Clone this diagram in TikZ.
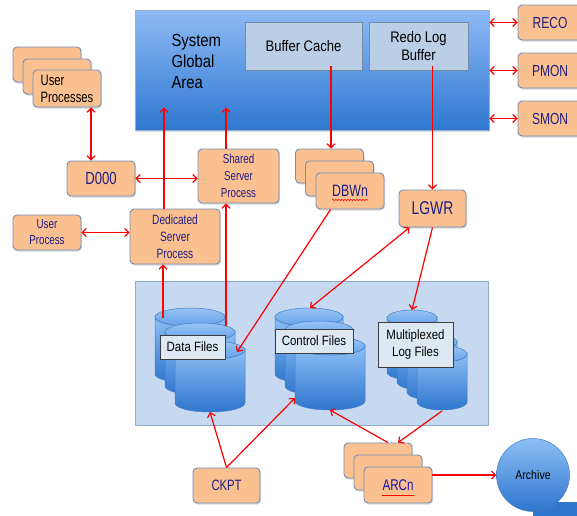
\documentclass[tikz,border=0pt]{standalone}
\usepackage{fontspec}
\setmainfont{Liberation Sans}[FakeStretch=0.85]
\newfontfamily\narrowsf{Liberation Sans}[FakeStretch=0.75]
\usepackage{tikz}
\usetikzlibrary{positioning,arrows.meta,calc,shadows,decorations.pathmorphing}

\definecolor{procfill}{RGB}{250,192,144}
\definecolor{procedge}{RGB}{112,142,182}
\definecolor{proctext}{RGB}{30,30,130}
\definecolor{sgaTop}{RGB}{142,186,246}
\definecolor{sgaBot}{RGB}{46,120,208}
\definecolor{sgaedge}{RGB}{150,175,210}
\definecolor{memfill}{RGB}{186,206,229}
\definecolor{memedge}{RGB}{120,138,162}
\definecolor{storefill}{RGB}{198,217,240}
\definecolor{storeedge}{RGB}{140,170,205}
\definecolor{cylTop}{RGB}{140,190,245}
\definecolor{cylBot}{RGB}{46,118,206}
\definecolor{capTop}{RGB}{150,196,246}
\definecolor{capBot}{RGB}{100,160,232}
\definecolor{cylEdge}{RGB}{70,125,195}
\definecolor{tagfill}{RGB}{222,232,243}
\definecolor{tagedge}{RGB}{60,60,60}
\definecolor{arrred}{RGB}{255,0,0}
\definecolor{linkblue}{RGB}{20,20,170}

\newcommand{\fs}[1]{\fontsize{#1}{#1}\selectfont}
\newcommand{\nfs}[2]{\narrowsf\fontsize{#1}{#2}\selectfont}
\newcommand{\drum}[5]{%
  \shade[cylbody] (#1-#4,#2) -- (#1-#4,#3) arc[start angle=180,end angle=0,x radius=#4,y radius=#5]
    -- (#1+#4,#2) arc[start angle=0,end angle=180,x radius=#4,y radius=#5] -- cycle;
  \shade[cylcap] (#1,#2) ellipse[x radius=#4,y radius=#5];}

\begin{document}
\begin{tikzpicture}[x=1pt, y=-1pt,
  shad/.style={drop shadow={shadow xshift=1pt, shadow yshift=-1.5pt, opacity=0.3}},
  proc/.style={draw=procedge, fill=procfill, rounded corners=4pt, line width=0.9pt, text=proctext, align=center, inner sep=1pt, shad},
  pbox/.style={proc, minimum width=68pt, minimum height=35pt},
  sga/.style={draw=sgaedge, top color=sgaTop, bottom color=sgaBot, line width=0.8pt, shad},
  mem/.style={draw=memedge, fill=memfill, line width=0.8pt, align=center},
  store/.style={draw=storeedge, fill=storefill, line width=0.8pt},
  tag/.style={draw=tagedge, fill=tagfill, line width=0.8pt, align=center, inner sep=2pt, font=\fontsize{13.5}{16.5}\selectfont},
  cylbody/.style={top color=cylTop, bottom color=cylBot, draw=cylEdge, line width=0.5pt},
  cylcap/.style={top color=capTop, bottom color=capBot, draw=cylEdge, line width=0.5pt},
  arr/.style={-{Straight Barb[length=4pt,width=8pt]}, line width=1.2pt, draw=arrred},
  arrr/.style={arr, {Straight Barb[length=4pt,width=8pt]}-{Straight Barb[length=4pt,width=8pt]}}]
  \useasboundingbox (0,0) rectangle (577,515);

  \node[sga, minimum width=354pt, minimum height=120pt] (sga) at (312,70) {};
  \node[anchor=west, align=left, font=\fontsize{17.5}{21}\selectfont] (sgat) at (168,61) {System\\Global\\Area};
  \node[mem, minimum width=117pt, minimum height=48pt, font=\fs{15.3}] (bufcache) at (303.5,46) {Buffer Cache};
  \node[mem, minimum width=99pt, minimum height=48pt, font=\fontsize{15.3}{18}\selectfont] (redolog) at (418.5,46) {Redo Log\\Buffer};

  \node[pbox, minimum width=64pt, font=\nfs{16}{16}] (reco) at (550,22.5) {RECO};
  \node[pbox, minimum width=64pt, font=\nfs{16}{16}] (pmon) at (550,70.5) {PMON};
  \node[pbox, minimum width=64pt, font=\nfs{16}{16}] (smon) at (550,118.5) {SMON};

  \node[pbox] (up1) at (47,64.5) {};
  \node[pbox] (up2) at (57,76.5) {};
  \node[pbox, minimum height=37pt, align=left, text=black, font=\nfs{15}{17}] (up) at (67,88.5) {User\\Processes};
  \node[pbox, font=\nfs{17.5}{17.5}] (d000) at (101,178.5) {D000};
  \node[proc, minimum width=81pt, minimum height=54pt, font=\nfs{13}{17}] (shared) at (238.5,176) {Shared\\Server\\Process};
  \node[pbox, font=\nfs{13}{16}] (userproc) at (47,232.5) {User\\Process};
  \node[proc, minimum width=90pt, minimum height=55pt, font=\nfs{13.5}{17}] (dedicated) at (175,236.5) {Dedicated\\Server\\Process};

  \node[pbox, minimum height=34pt] (dbw1) at (329.5,166) {};
  \node[pbox] (dbw2) at (339.5,178.5) {};
  \node[pbox, minimum height=36pt, font=\nfs{16.5}{16.5}] (dbw) at (350,191) {DBWn};
  \draw[arrred, line width=0.6pt, decorate, decoration={snake, amplitude=0.6pt, segment length=3pt}] ($(dbw.center)+(-18,9)$) -- ++(36,0);
  \node[pbox, minimum width=67pt, minimum height=37pt, font=\nfs{18.5}{18.5}] (lgwr) at (432.5,208.5) {LGWR};

  \node[store, minimum width=353pt, minimum height=144pt] (disk) at (311.5,353) {};
  \drum{190}{317}{374}{35}{9}
  \drum{200}{332}{386}{35}{9}
  \drum{210}{350}{403}{35}{9}
  \drum{309}{317}{374}{34}{9}
  \drum{319}{330}{386}{34}{9}
  \drum{330}{346}{401}{35}{9}
  \drum{412}{318}{372}{25}{8}
  \drum{422}{330}{382}{25}{8}
  \drum{432}{342}{392}{25}{8}
  \drum{442}{354}{402}{25}{8}
  \node[tag, minimum width=65pt, minimum height=24pt] (dfl) at (192.5,347) {Data Files};
  \node[tag, minimum width=78pt, minimum height=24pt] (cfl) at (314,341) {Control Files};
  \node[tag, minimum width=75pt, minimum height=45pt] (lfl) at (415.5,344.5) {Multiplexed\\Log Files};
  \coordinate (df-a) at (163,318);
  \coordinate (df-b) at (226,326);
  \coordinate (df-in) at (237,352);
  \coordinate (df-bot) at (210,412);
  \coordinate (cf-top) at (310,308);
  \coordinate (cf-left) at (295,398);
  \coordinate (cf-bot) at (330,410);
  \coordinate (lf-top) at (412,310);
  \coordinate (lf-bot) at (442,411);

  \node[pbox, minimum width=67pt, font=\nfs{15}{15}] (ckpt) at (226.5,485.5) {CKPT};
  \node[pbox] (arc1) at (378,460.5) {};
  \node[pbox] (arc2) at (388,472.5) {};
  \node[pbox, minimum height=36pt, text=linkblue, font=\nfs{15.5}{15.5}] (arc) at (398,485) {ARCn};
  \draw[arrred, line width=1pt] ($(arc.center)+(-16,10)$) -- ++(32,0);

  \fill[cylBot] (533,502) rectangle (580,517);
  \node[circle, minimum size=73pt, top color=cylTop, bottom color=cylBot, draw=cylEdge, line width=0.5pt, font=\fs{12.5}] (archive) at (533,475) {Archive};

  \draw[arrr] (sga.east |- reco.west) -- (reco.west);
  \draw[arrr] (sga.east |- pmon.west) -- (pmon.west);
  \draw[arrr] (sga.east |- smon.west) -- (smon.west);
  \draw[arrr] ($(up.south)+(24,0)$) -- ($(d000.north)+(-10,0)$);
  \draw[arrr] (d000.east) -- (d000.east -| shared.west);
  \draw[arrr] (userproc.east) -- (userproc.east -| dedicated.west);
  \draw[arr] ($(shared.north)+(-12.5,0)$) -- ($(shared.north |- sga.south)+(-12.5,-23)$);
  \draw[arr] ($(dedicated.north)+(-11,0)$) -- ($(dedicated.north |- sga.south)+(-11,-23)$);
  \draw[arr] ($(bufcache.south)+(27.5,-4)$) -- ($(dbw1.north)+(1.5,0)$);
  \draw[arr] ($(redolog.south -| lgwr.north)+(0,-4)$) -- (lgwr.north);
  \draw[arr] ($(dbw.south west)+(15,0)$) -- (df-in);
  \draw[arrr] ($(lgwr.south west)+(11,0)$) -- (cf-top);
  \draw[arr] (lgwr.south) -- (lf-top);
  \draw[arr] (df-a) -- (df-a |- dedicated.south);
  \draw[arr] (df-b) -- (df-b |- shared.south);
  \draw[arr] (ckpt.north) -- (df-bot);
  \draw[arr] (ckpt.north) -- (cf-left);
  \draw[arr] ($(arc1.north)+(10,0)$) -- (cf-bot);
  \draw[arr] (lf-bot) -- ($(arc1.north)+(20,0)$);
  \draw[arr] (arc.east |- archive.west) -- (archive.west);
\end{tikzpicture}
\end{document}
